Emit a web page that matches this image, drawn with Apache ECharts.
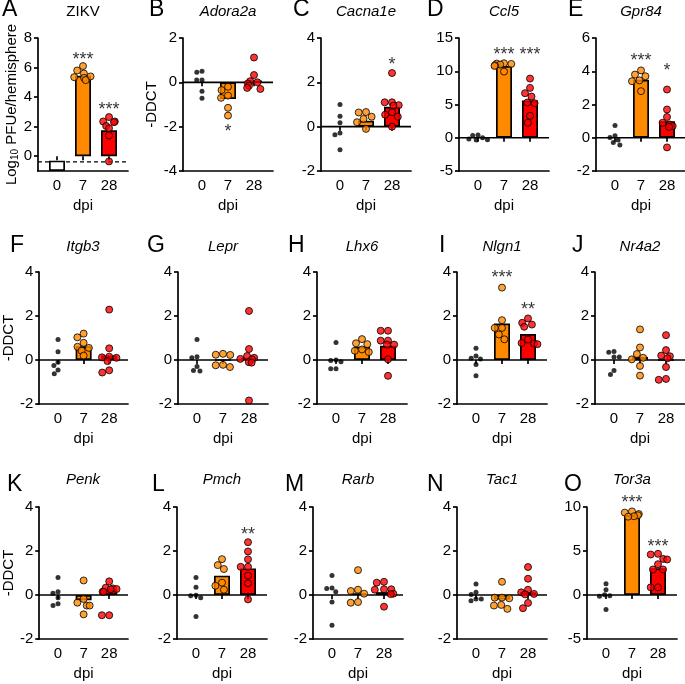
<!DOCTYPE html>
<html><head><meta charset="utf-8">
<script src="https://cdn.jsdelivr.net/npm/echarts@6/dist/echarts.min.js"></script>
<style>html,body{margin:0;padding:0;background:#fff}#c{width:685px;height:684px}</style>
</head><body><div id="c"></div>
<script>
// ---------- DATA ----------
const dpiLabels = ['0', '7', '28'];
const panelLetters = ['A','B','C','D','E','F','G','H','I','J','K','L','M','N','O'];
const panelTitles = ['ZIKV','Adora2a','Cacna1e','Ccl5','Gpr84','Itgb3','Lepr','Lhx6','Nlgn1','Nr4a2','Penk','Pmch','Rarb','Tac1','Tor3a'];

// ZIKV (Log10 PFUe/hemisphere)
const zikv0 = [];
const zikv7 = [6.1, 5.8, 5.6, 5.4, 5.35, 5.3, 5.15];
const zikv28 = [2.65, 2.35, 2.35, 2.3, 2.05, 1.9, 1.4, -0.35];
const zikvBars = [-0.3, 5.45, 1.76];
const zikvLOD = -0.38;

const adora2a0 = [0.5, 0.45, 0.1, 0.1, -0.4, -0.72];
const adora2a7 = [-0.2, -0.35, -0.6, -0.7, -1.15, -1.5];
const adora2a28 = [1.12, 0.33, 0.05, 0.0, -0.05, -0.15, -0.25, -0.3];
const adora2aBars = [null, -0.75, 0.08];

const cacna1e0 = [1.0, 0.47, 0.18, -0.29, -0.36, -1.04];
const cacna1e7 = [0.66, 0.64, 0.45, 0.35, 0.2, -0.1];
const cacna1e28 = [2.42, 1.1, 1.1, 0.97, 0.95, 0.65, 0.54, 0.45, 0.0];
const cacna1eBars = [null, 0.27, 0.9];

const ccl50 = [0.4, 0.35, 0.0, -0.2, -0.3, -0.35];
const ccl57 = [11.2, 11.15, 11.1, 11.0, 10.9, 10.8, 9.95];
const ccl528 = [8.9, 7.5, 6.7, 6.2, 5.3, 5.2, 3.3, 2.25];
const ccl5Bars = [null, 10.8, 5.6];

const gpr840 = [0.73, 0.12, 0.02, -0.14, -0.28, -0.44];
const gpr847 = [4.05, 3.8, 3.7, 3.45, 3.4, 2.8];
const gpr8428 = [2.9, 1.7, 1.25, 0.9, 0.8, 0.7, 0.65, -0.58];
const gpr84Bars = [null, 3.49, 0.99];

const itgb30 = [0.93, 0.38, -0.1, -0.25, -0.45, -0.62];
const itgb37 = [1.2, 1.03, 0.78, 0.6, 0.55, 0.42, 0.2];
const itgb328 = [2.29, 0.53, 0.15, 0.12, 0.1, -0.05, -0.47, -0.57];
const itgb3Bars = [null, 0.62, 0.2];

const lepr0 = [0.93, 0.15, 0.1, -0.3, -0.48, -0.5];
const lepr7 = [0.28, 0.24, 0.23, -0.22, -0.24, -0.32];
const lepr28 = [2.23, 0.5, 0.18, 0.1, 0.05, 0.03, -0.1, -0.12, -1.84];
const leprBars = [null, 0.0, 0.1];

const lhx60 = [0.8, 0.0, -0.02, -0.08, -0.4, -0.4];
const lhx67 = [0.95, 0.76, 0.72, 0.48, 0.42, 0.36];
const lhx628 = [1.33, 1.33, 0.88, 0.88, 0.7, 0.7, 0.03, -0.72];
const lhx6Bars = [null, 0.6, 0.65];

const nlgn10 = [0.53, 0.18, 0.08, 0.05, -0.2, -0.72];
const nlgn17 = [3.29, 1.81, 1.46, 1.46, 1.16, 0.94];
const nlgn128 = [1.89, 1.69, 1.61, 1.51, 0.93, 0.77, 0.75, 0.72];
const nlgn1Bars = [null, 1.66, 1.18];

const nr4a20 = [0.39, 0.35, 0.14, 0.14, -0.48, -0.66];
const nr4a27 = [1.39, 0.57, 0.27, 0.1, 0.03, -0.27, -0.71];
const nr4a228 = [1.13, 0.45, 0.2, 0.17, 0.08, -0.32, -0.86, -0.9];
const nr4a2Bars = [null, 0.14, 0.0];

const penk0 = [0.8, 0.15, 0.08, -0.12, -0.4, -0.48];
const penk7 = [0.66, -0.18, -0.35, -0.48, -0.48, -0.88];
const penk28 = [0.62, 0.33, 0.3, 0.27, 0.26, 0.15, 0.15, -0.92, -0.92];
const penkBars = [null, -0.24, 0.25];

const pmch0 = [0.8, 0.35, -0.01, -0.03, -0.12, -0.98];
const pmch7 = [1.63, 1.36, 1.18, 0.56, 0.42, 0.24];
const pmch28 = [2.4, 1.98, 1.62, 1.28, 1.28, 0.88, 0.53, -0.2];
const pmchBars = [null, 0.88, 1.21];

const rarb0 = [0.89, 0.32, 0.29, 0.15, -0.32, -1.37];
const rarb7 = [1.13, 0.24, 0.18, 0.06, -0.32, -0.35];
const rarb28 = [0.6, 0.56, 0.26, 0.26, 0.24, 0.06, 0.04, -0.53];
const rarbBars = [null, 0.08, 0.13];

const tac10 = [0.5, 0.12, 0.02, -0.18, -0.18, -0.26];
const tac17 = [0.6, -0.12, -0.12, -0.15, -0.45, -0.48, -0.63];
const tac128 = [1.27, 0.74, 0.24, 0.12, 0.05, 0.03, -0.36, -0.6];
const tac1Bars = [null, -0.2, 0.12];

const tor3a0 = [1.28, 0.6, 0.02, -0.08, -0.15, -1.66];
const tor3a7 = [9.5, 9.36, 9.2, 9.06, 8.95, 8.9];
const tor3a28 = [4.68, 4.6, 4.1, 4.04, 3.5, 2.9, 2.9, 0.87, 0.87];
const tor3aBars = [null, 9.06, 3.05];

// significance annotations: text and y value (per group 0/7/28)
const sigText = [
  ['', '***', '***'], ['', '*', ''], ['', '', '*'], ['', '***', '***'], ['', '***', '*'],
  ['', '', ''], ['', '', ''], ['', '', ''], ['', '***', '**'], ['', '', ''],
  ['', '', ''], ['', '', '**'], ['', '', ''], ['', '', ''], ['', '***', '***']
];
const sigY = [
  [null, 6.8, 3.4], [null, -2.07, null], [null, null, 2.98], [null, 13.1, 13.1], [null, 4.86, 4.25],
  [null, null, null], [null, null, null], [null, null, null], [null, 3.92, 2.44], [null, null, null],
  [null, null, null], [null, null, 2.9], [null, null, null], [null, null, null], [null, 10.9, 5.9]
];

// y-axis ranges and tick steps
const yMins = [-1, -4, -2, -5, -2, -2, -2, -2, -2, -2, -2, -2, -2, -2, -5];
const yMaxs = [8, 2, 4, 15, 6, 4, 4, 4, 4, 4, 4, 4, 4, 4, 10];
const ySteps = [2, 2, 2, 5, 2, 2, 2, 2, 2, 2, 2, 2, 2, 2, 5];
const zikvTicks = [0, 2, 4, 6, 8];

const groups = [
  [zikv0, zikv7, zikv28], [adora2a0, adora2a7, adora2a28], [cacna1e0, cacna1e7, cacna1e28],
  [ccl50, ccl57, ccl528], [gpr840, gpr847, gpr8428], [itgb30, itgb37, itgb328],
  [lepr0, lepr7, lepr28], [lhx60, lhx67, lhx628], [nlgn10, nlgn17, nlgn128],
  [nr4a20, nr4a27, nr4a228], [penk0, penk7, penk28], [pmch0, pmch7, pmch28],
  [rarb0, rarb7, rarb28], [tac10, tac17, tac128], [tor3a0, tor3a7, tor3a28]
];
const bars = [zikvBars, adora2aBars, cacna1eBars, ccl5Bars, gpr84Bars, itgb3Bars, leprBars, lhx6Bars,
  nlgn1Bars, nr4a2Bars, penkBars, pmchBars, rarbBars, tac1Bars, tor3aBars];

// ---------- LAYOUT / STYLE ----------
const FONT = 'Arial, "Liberation Sans", Helvetica, sans-serif';
const rowTop = [38, 272, 507];
const rowBottom = [171, 404, 639];
const axisX = [[38, 183, 321, 459, 596], [38, 178, 317, 457, 595], [38, 177, 313, 457, 587]];
const letterX = [[2, 149, 293, 427, 568], [10, 147, 288, 439, 572], [7, 152, 285, 427, 564]];
const letterY = [10, 246, 485];
const titleY = [12, 247, 480];
const groupColors = ['#000000', '#FF8A00', '#FF0000'];
const BLACK = '#000';
const lineStyle = { color: BLACK, width: 1.7 };

const grids = [], xAxes = [], yAxes = [], series = [], graphics = [];

panelTitles.forEach((title, i) => {
  const row = Math.floor(i / 5), col = i % 5;
  const ax = axisX[row][col];
  const top = rowTop[row], h = rowBottom[row] - rowTop[row];
  const gMain = grids.length;
  grids.push({ left: ax + 6, top: top, width: 78, height: h });
  const gOv = grids.length;
  grids.push({ left: ax, top: top, width: 90, height: h });

  const xMain = xAxes.length;
  xAxes.push({
    gridIndex: gMain, type: 'category', data: dpiLabels, boundaryGap: true,
    jitter: 22, jitterOverlap: false, jitterMargin: 0.3,
    axisLine: { show: false },
    axisTick: { show: true, alignWithLabel: true, length: 4, lineStyle: lineStyle },
    axisLabel: { color: BLACK, fontSize: 15, fontFamily: FONT, margin: 7 },
    name: 'dpi', nameLocation: 'middle', nameGap: 27,
    nameTextStyle: { color: BLACK, fontSize: 15, fontFamily: FONT }
  });
  const xOv = xAxes.length;
  xAxes.push({
    gridIndex: gOv, type: 'value', min: 0, max: 1,
    axisLine: { show: true, onZero: false, lineStyle: lineStyle },
    axisTick: { show: false }, axisLabel: { show: false }, splitLine: { show: false }
  });

  const yMain = yAxes.length;
  const yOpt = {
    gridIndex: gMain, type: 'value', min: yMins[i], max: yMaxs[i], interval: i === 0 ? 1 : ySteps[i],
    offset: 6,
    axisLine: { show: true, lineStyle: lineStyle },
    axisTick: { show: true, length: 4, lineStyle: lineStyle },
    axisLabel: { color: BLACK, fontSize: 15, fontFamily: FONT, margin: 6 },
    splitLine: { show: false }
  };
  if (i === 0) {
    yOpt.axisTick.customValues = zikvTicks;
    yOpt.axisLabel.customValues = zikvTicks;
    yOpt.name = '{n|Log}{s|10}{n| PFUe/hemisphere}';
    yOpt.nameLocation = 'middle';
    yOpt.nameGap = 18;
    yOpt.nameTextStyle = { rich: {
      n: { fontSize: 15, fontFamily: FONT, color: BLACK },
      s: { fontSize: 10, fontFamily: FONT, color: BLACK, verticalAlign: 'bottom' }
    } };
  } else if (col === 0 || i === 1) {
    yOpt.name = '-DDCT';
    yOpt.nameLocation = 'middle';
    yOpt.nameGap = i === 1 ? 22 : 23;
    yOpt.nameTextStyle = { color: BLACK, fontSize: 15, fontFamily: FONT };
  }
  yAxes.push(yOpt);
  const yOv = yAxes.length;
  yAxes.push({ gridIndex: gOv, type: 'value', min: yMins[i], max: yMaxs[i], show: false });

  // zero line (or LOD dashed line for ZIKV)
  const lineY = i === 0 ? zikvLOD : 0;
  series.push({
    type: 'line', xAxisIndex: xOv, yAxisIndex: yOv, data: [[0, lineY], [1, lineY]],
    symbol: 'none', silent: true, z: 1,
    lineStyle: { color: BLACK, width: i === 0 ? 1.3 : 1.7, type: i === 0 ? [4, 3] : 'solid' }
  });

  // bars
  const b = bars[i];
  const stackName = 'panel' + i;
  const barData = b.map((v, k) => {
    if (v == null) return '-';
    if (i === 0 && k === 0) return { value: v, itemStyle: { color: 'rgba(0,0,0,0)', borderWidth: 0 } };
    return { value: v, itemStyle: { color: groupColors[k] } };
  });
  const barSeries = {
    type: 'bar', xAxisIndex: xMain, yAxisIndex: yMain, data: barData, barWidth: 16,
    silent: true, z: 2,
    itemStyle: { borderColor: BLACK, borderWidth: 1.7 }
  };
  if (i === 0) barSeries.stack = stackName;
  series.push(barSeries);
  if (i === 0) {
    // white bar from LOD bar top down to the axis floor
    series.push({
      type: 'bar', xAxisIndex: xMain, yAxisIndex: yMain, stack: stackName, barWidth: 16, silent: true, z: 2,
      data: [{ value: yMins[0] - b[0], itemStyle: { color: '#fff' } }, '-', '-'],
      itemStyle: { borderColor: BLACK, borderWidth: 1.7 }
    });
  }

  // points
  groups[i].forEach((arr, k) => {
    series.push({
      type: 'scatter', xAxisIndex: xMain, yAxisIndex: yMain, silent: true, z: 4,
      data: arr.map(v => [k, v]),
      symbolSize: k === 0 ? 5 : 7,
      itemStyle: k === 0 ? { color: BLACK } : { color: groupColors[k], borderColor: BLACK, borderWidth: 1 }
    });
  });

  // significance stars
  const sd = [];
  sigText[i].forEach((t, k) => { if (t) sd.push([k, sigY[i][k], t]); });
  if (sd.length) {
    series.push({
      type: 'scatter', xAxisIndex: xMain, yAxisIndex: yMain, silent: true, z: 5, clip: false,
      data: sd, symbolSize: 0.1, itemStyle: { color: 'rgba(0,0,0,0)' },
      label: { show: true, position: 'inside', formatter: p => p.data[2], color: BLACK,
        fontSize: 18, fontFamily: FONT, offset: [0, 4] }
    });
  }

  graphics.push({ type: 'text', x: letterX[row][col], y: letterY[row],
    style: { text: panelLetters[i], font: '23px ' + FONT, fill: BLACK, textAlign: 'left', textVerticalAlign: 'middle' } });
  graphics.push({ type: 'text', x: ax + 45, y: titleY[row],
    style: { text: title, font: (i === 0 ? '' : 'italic ') + '15px ' + FONT, fill: BLACK, textAlign: 'center', textVerticalAlign: 'middle' } });
});

const chart = echarts.init(document.getElementById('c'), null, { renderer: 'canvas' });
chart.setOption({
  animation: false,
  backgroundColor: '#fff',
  grid: grids, xAxis: xAxes, yAxis: yAxes, series: series, graphic: graphics
});
</script></body></html>
